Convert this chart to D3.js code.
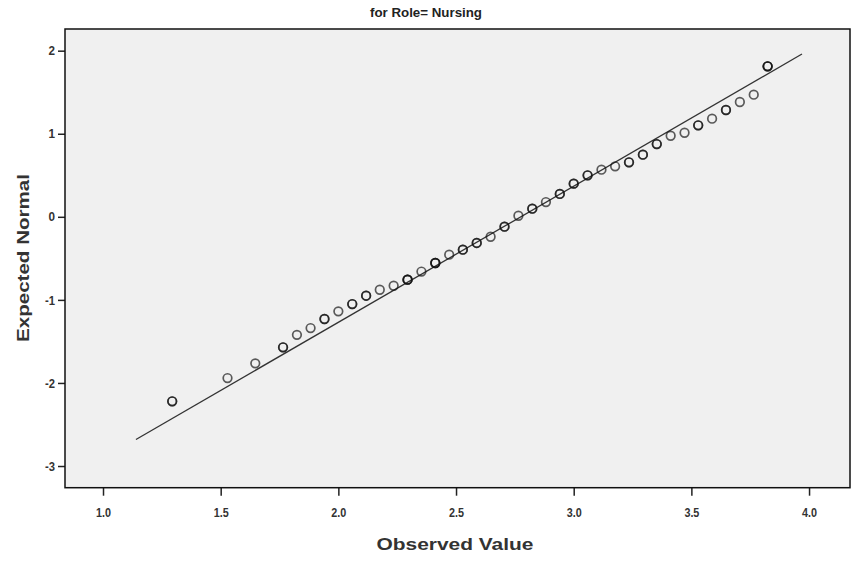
<!DOCTYPE html>
<html>
<head>
<meta charset="utf-8">
<script src="https://cdn.jsdelivr.net/npm/d3@7"></script>
<style>
  html, body { margin: 0; padding: 0; background: #fff; }
  svg { display: block; }
  .tick text { font-family: "Liberation Sans", Arial, sans-serif; font-size: 13px; font-weight: bold; fill: #333; }
  .tick line { stroke: #222; stroke-width: 1.5; }
</style>
</head>
<body>
<svg id="chart" width="854" height="562"></svg>
<script>
// Normal Q-Q plot: observed scores against expected normal quantiles
const observed = [
  1.294, 1.529, 1.647, 1.765, 1.824, 1.882, 1.941, 2.000, 2.059, 2.118,
  2.176, 2.235, 2.294, 2.353, 2.412, 2.471, 2.529, 2.588, 2.647, 2.706,
  2.765, 2.824, 2.882, 2.941, 3.000, 3.059, 3.118, 3.176, 3.235, 3.294,
  3.353, 3.412, 3.471, 3.529, 3.588, 3.647, 3.706, 3.765, 3.824
];
const expectedNormal = [
  -2.221, -1.941, -1.764, -1.571, -1.421, -1.339, -1.230, -1.138, -1.050, -0.950,
  -0.878, -0.830, -0.757, -0.659, -0.556, -0.456, -0.396, -0.315, -0.240, -0.119,
   0.013,  0.098,  0.178,  0.275,  0.399,  0.500,  0.567,  0.608,  0.656,  0.748,
   0.876,  0.976,  1.012,  1.102,  1.181,  1.286,  1.382,  1.470,  1.812
];
// number of cases sharing each observed value
const caseCount = [
  2, 1, 1, 2, 1, 1, 2, 1, 2, 2,
  1, 1, 3, 1, 3, 1, 2, 2, 1, 2,
  1, 2, 1, 2, 2, 2, 1, 1, 2, 2,
  2, 1, 1, 2, 1, 2, 1, 1, 3
];
// reference line endpoints (observed, expected)
const refLineX = [1.14, 3.97];
const refLineY = [-2.68, 1.96];

const xTicks = [1.0, 1.5, 2.0, 2.5, 3.0, 3.5, 4.0];
const yTicks = [-3, -2, -1, 0, 1, 2];

const titleText = "for Role= Nursing";
const xTitle = "Observed Value";
const yTitle = "Expected Normal";

const svg = d3.select("#chart");
const frame = { left: 65, top: 29, right: 850, bottom: 487.7 };

const x = d3.scaleLinear().domain([0.8385, 4.174]).range([frame.left, frame.right]);
const y = d3.scaleLinear().domain([-3.261, 2.261]).range([frame.bottom, frame.top]);

// plot background
svg.append("rect")
  .attr("x", frame.left).attr("y", frame.top)
  .attr("width", frame.right - frame.left).attr("height", frame.bottom - frame.top)
  .attr("fill", "#f0f0f0");

// axes
const xAxis = svg.append("g")
  .attr("transform", `translate(0,${frame.bottom})`)
  .call(d3.axisBottom(x).tickValues(xTicks).tickFormat(d3.format(".1f")).tickSize(8).tickPadding(12));
xAxis.select(".domain").remove();
xAxis.selectAll(".tick text").attr("textLength", 15).attr("lengthAdjust", "spacingAndGlyphs");

const yAxis = svg.append("g")
  .attr("transform", `translate(${frame.left},0)`)
  .call(d3.axisLeft(y).tickValues(yTicks).tickFormat(d => String(d)).tickSize(7).tickPadding(3));
yAxis.select(".domain").remove();
yAxis.selectAll(".tick text")
  .attr("textLength", d => d < 0 ? 10 : 6.5)
  .attr("lengthAdjust", "spacingAndGlyphs");

// reference line
svg.append("line")
  .attr("x1", x(refLineX[0])).attr("y1", y(refLineY[0]))
  .attr("x2", x(refLineX[1])).attr("y2", y(refLineY[1]))
  .attr("stroke", "#333").attr("stroke-width", 1.3);

// points: one ring per case, overlaid so repeated values look darker
const pts = [];
observed.forEach((v, i) => {
  for (let k = 0; k < caseCount[i]; k++) pts.push({ x: v, y: expectedNormal[i] });
});
svg.append("g").selectAll("circle")
  .data(pts)
  .join("circle")
  .attr("cx", d => x(d.x))
  .attr("cy", d => y(d.y))
  .attr("r", 4.3)
  .attr("fill", "none")
  .attr("stroke", "#111")
  .attr("stroke-opacity", 0.68)
  .attr("stroke-width", 1.7);

// frame border
svg.append("rect")
  .attr("x", frame.left).attr("y", frame.top)
  .attr("width", frame.right - frame.left).attr("height", frame.bottom - frame.top)
  .attr("fill", "none").attr("stroke", "#111").attr("stroke-width", 1.5);

// titles
svg.append("text")
  .attr("x", 426).attr("y", 17)
  .attr("text-anchor", "middle")
  .attr("font-family", "'Liberation Sans', Arial, sans-serif")
  .attr("font-weight", "bold").attr("font-size", 12).attr("fill", "#222")
  .attr("textLength", 112).attr("lengthAdjust", "spacingAndGlyphs")
  .text(titleText);

svg.append("text")
  .attr("x", 455).attr("y", 550)
  .attr("text-anchor", "middle")
  .attr("font-family", "'Liberation Sans', Arial, sans-serif")
  .attr("font-weight", "bold").attr("font-size", 17).attr("fill", "#333")
  .attr("textLength", 157).attr("lengthAdjust", "spacingAndGlyphs")
  .text(xTitle);

svg.append("text")
  .attr("transform", "translate(29,258) rotate(-90)")
  .attr("text-anchor", "middle")
  .attr("font-family", "'Liberation Sans', Arial, sans-serif")
  .attr("font-weight", "bold").attr("font-size", 17).attr("fill", "#333")
  .attr("textLength", 168).attr("lengthAdjust", "spacingAndGlyphs")
  .text(yTitle);
</script>
</body>
</html>
